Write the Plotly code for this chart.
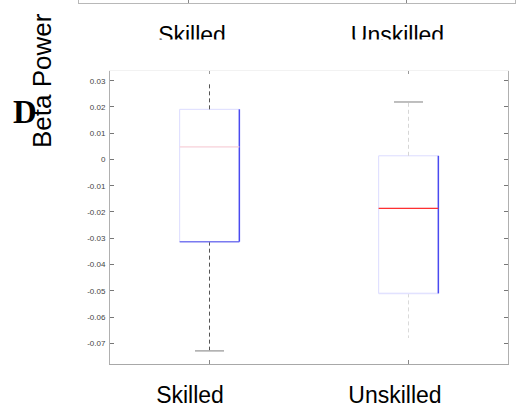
import plotly.graph_objects as go

# ---- data ----
categories = ["Skilled", "Unskilled"]
q1_vals = [-0.0313, -0.0510]
median_vals = [0.0048, -0.0186]
q3_vals = [0.0191, 0.0014]
lower_whisker = [-0.0729, -0.0680]
upper_whisker = [0.0291, 0.0219]
ytick_vals = [0.03, 0.02, 0.01, 0.0, -0.01, -0.02, -0.03, -0.04, -0.05, -0.06, -0.07]
ytick_text = ["0.03", "0.02", "0.01", "0", "-0.01", "-0.02", "-0.03", "-0.04",
              "-0.05", "-0.06", "-0.07"]
y_title = "Beta Power"
panel_letter = "D"

# ---- layout helpers ----
W = 522
H = 412


def px(x):
    return x / W


def py(y):
    return 1 - y / H


FONT = "Liberation Sans, Arial, sans-serif"
BOX_W = 0.30
CAP_W = 0.146
median_colors = ["#ffd9d9", "#ff3030"]
bottom_edge_colors = ["#7a7af0", "#e2e2ff"]
upper_wh_colors = ["#555555", "#d6d6d6"]
lower_wh_colors = ["#555555", "#dadada"]
show_upper_cap = [False, True]
show_lower_cap = [True, False]
CAP_COLOR = "#a9a9a9"

pos = list(range(len(categories)))
fig = go.Figure()

for i, p in enumerate(pos):
    lo, hi = p - BOX_W / 2, p + BOX_W / 2
    fig.add_trace(go.Box(
        x=[p], q1=[q1_vals[i]], median=[median_vals[i]], q3=[q3_vals[i]],
        lowerfence=[q1_vals[i]], upperfence=[q3_vals[i]],
        width=BOX_W, whiskerwidth=0, boxpoints=False,
        line=dict(color="#dcdcff", width=1), fillcolor="rgba(255,255,255,0)",
        hoverinfo="skip", showlegend=False))
    fig.add_trace(go.Scatter(
        x=[p, p], y=[q3_vals[i], upper_whisker[i]], mode="lines",
        line=dict(color=upper_wh_colors[i], width=1, dash="4px,3px"),
        hoverinfo="skip", showlegend=False))
    fig.add_trace(go.Scatter(
        x=[p, p], y=[q1_vals[i], lower_whisker[i]], mode="lines",
        line=dict(color=lower_wh_colors[i], width=1, dash="4px,3px"),
        hoverinfo="skip", showlegend=False))
    if show_upper_cap[i]:
        fig.add_trace(go.Scatter(
            x=[p - CAP_W / 2, p + CAP_W / 2], y=[upper_whisker[i]] * 2, mode="lines",
            line=dict(color=CAP_COLOR, width=1.5), hoverinfo="skip", showlegend=False))
    if show_lower_cap[i]:
        fig.add_trace(go.Scatter(
            x=[p - CAP_W / 2, p + CAP_W / 2], y=[lower_whisker[i]] * 2, mode="lines",
            line=dict(color=CAP_COLOR, width=1.5), hoverinfo="skip", showlegend=False))
    fig.add_trace(go.Scatter(
        x=[lo, hi], y=[q1_vals[i]] * 2, mode="lines",
        line=dict(color=bottom_edge_colors[i], width=1.5), hoverinfo="skip", showlegend=False))
    fig.add_trace(go.Scatter(
        x=[hi, hi], y=[q1_vals[i], q3_vals[i]], mode="lines",
        line=dict(color="#4a4af0", width=1.5), hoverinfo="skip", showlegend=False))
    fig.add_trace(go.Scatter(
        x=[lo, hi], y=[median_vals[i]] * 2, mode="lines",
        line=dict(color=median_colors[i], width=1.2), hoverinfo="skip", showlegend=False))

for xa, ya in [("x2", "y2"), ("x3", "y2"), ("x4", "y"), ("x5", "y")]:
    fig.add_trace(go.Scatter(x=[None], y=[None], xaxis=xa, yaxis=ya,
                             showlegend=False, hoverinfo="skip"))

main_dom = [px(110), px(508)]
top_dom = [px(79), px(515)]

fig.update_layout(
    width=W, height=H,
    margin=dict(l=0, r=0, t=0, b=0),
    paper_bgcolor="white", plot_bgcolor="white",
    font=dict(family=FONT),
    xaxis=dict(domain=main_dom, range=[-0.5, 1.5], tickvals=pos, showticklabels=False,
               ticks="inside", ticklen=4, tickcolor="#888888", showline=True,
               linecolor="#a8a8a8", linewidth=1, showgrid=False, zeroline=False,
               anchor="y"),
    yaxis=dict(domain=[py(364), py(71)], range=[-0.0779, 0.0337],
               tickvals=ytick_vals, ticktext=ytick_text, ticks="inside", ticklen=4,
               tickcolor="#777777", showline=True, linecolor="#b0b0b0", mirror="ticks",
               tickfont=dict(size=8, color="#444444", family=FONT),
               showgrid=False, zeroline=False, anchor="x", ticklabelstandoff=2),
    xaxis5=dict(overlaying="x", side="top", anchor="y", range=[-0.5, 1.5], tickvals=pos,
                showticklabels=False, ticks="inside", ticklen=3, tickcolor="#999999",
                showline=True, linecolor="#f2f2f2", showgrid=False, zeroline=False),
    xaxis4=dict(overlaying="x", anchor="y", type="linear",
                range=[-(190 - 110) / 205, 1 + (508 - 395) / 205],
                tickvals=pos, ticktext=categories, ticks="", showline=False,
                showgrid=False, zeroline=False, ticklabelstandoff=15,
                tickfont=dict(size=23, color="black", family=FONT)),
    xaxis2=dict(domain=top_dom, anchor="y2", type="linear", range=[-0.5, 1.5], tickvals=pos,
                showticklabels=False, ticks="inside", ticklen=3, tickcolor="#888888",
                showline=True, linecolor="#b8b8b8", showgrid=False, zeroline=False),
    yaxis2=dict(domain=[py(2.7), 1], anchor="x2", range=[0, 1], showticklabels=False,
                ticks="", showline=True, linecolor="#b8b8b8", mirror=True,
                showgrid=False, zeroline=False),
    xaxis3=dict(overlaying="x2", anchor="y2", type="linear",
                range=[-(192 - 79) / 205.5, 1 + (515 - 397.5) / 205.5],
                tickvals=pos, ticktext=categories, ticks="", showline=False,
                showgrid=False, zeroline=False, ticklabelstandoff=16,
                tickfont=dict(size=23, color="black", family=FONT)),
    shapes=[dict(type="rect", xref="paper", yref="paper", layer="above",
                 x0=px(140), x1=px(500), y0=py(68), y1=py(39.5),
                 fillcolor="white", line=dict(width=0))],
    annotations=[
        dict(text=y_title, xref="paper", yref="paper", x=px(42.5), y=py(80.5),
             xanchor="center", yanchor="middle", textangle=-90, showarrow=False,
             font=dict(size=26, color="black", family=FONT)),
        dict(text="<b>" + panel_letter + "</b>", xref="paper", yref="paper",
             x=px(25), y=py(112), xanchor="center", yanchor="middle",
             showarrow=False,
             font=dict(size=33, color="black",
                       family="Liberation Serif, Times New Roman, serif")),
    ],
)

fig.write_html("out.html", config={"displayModeBar": False},
               post_script="document.body.style.margin='0px';document.body.style.overflow='hidden';")
